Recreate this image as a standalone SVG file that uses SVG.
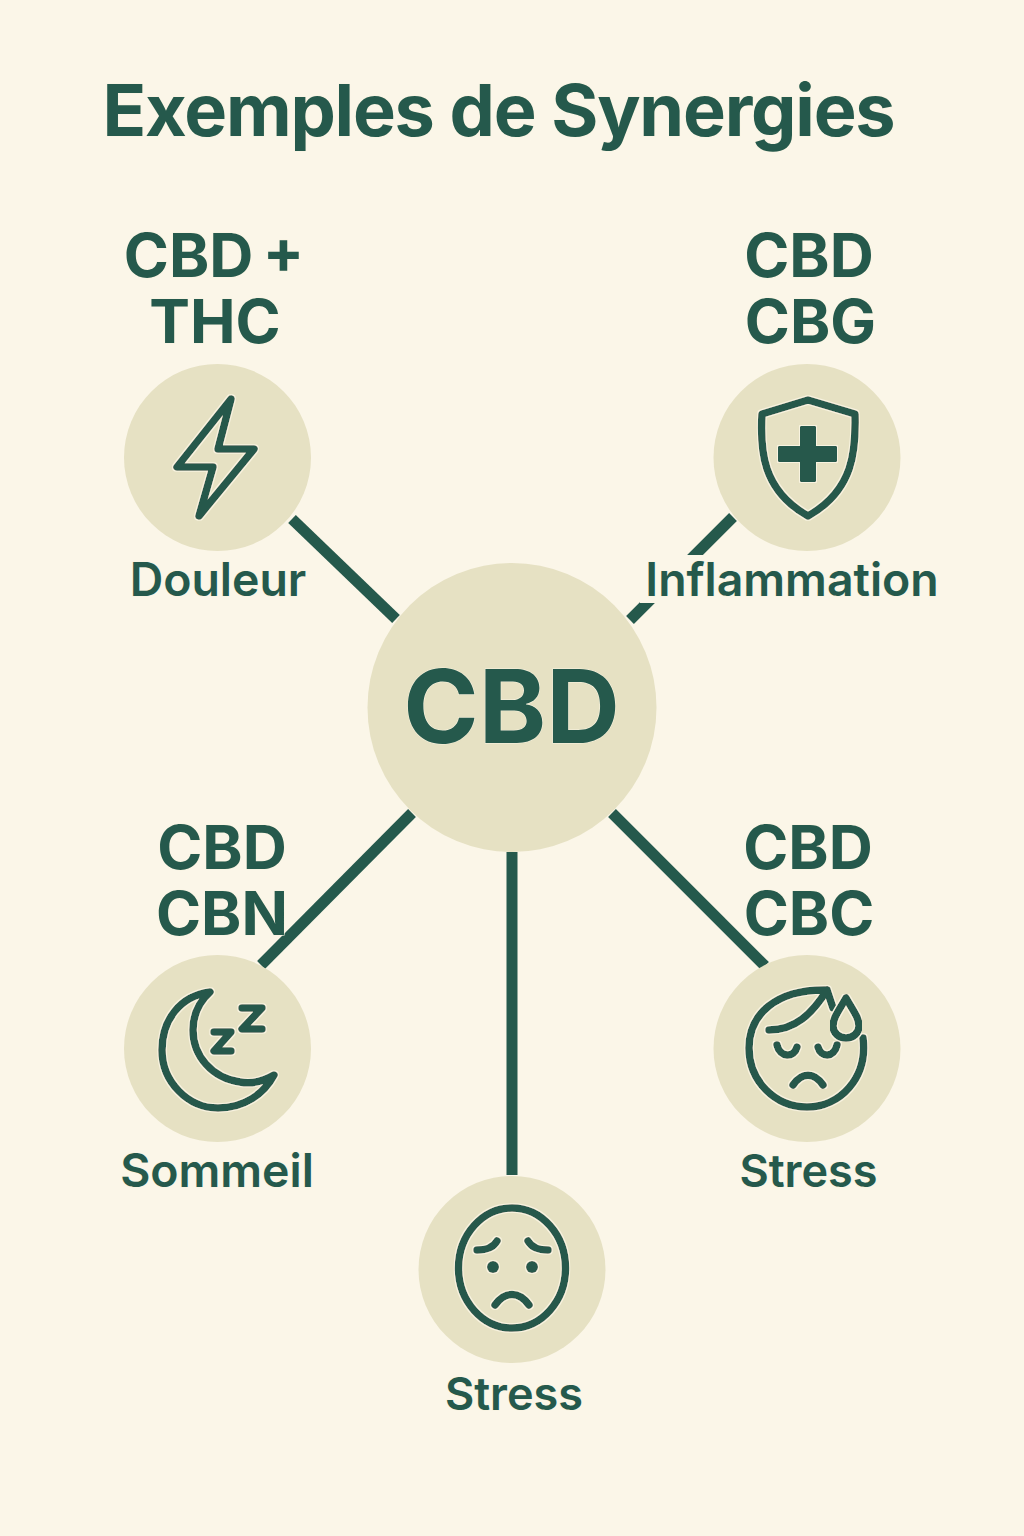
<svg xmlns="http://www.w3.org/2000/svg" width="1024" height="1536" viewBox="0 0 1024 1536">
<style>
text{font-family:Inter,"Liberation Sans",sans-serif;fill:#25594C;text-anchor:middle;paint-order:stroke;stroke:#F8F3E0;stroke-width:1px}
.title{font-size:72px;font-weight:700;letter-spacing:-1.2px}
.combo{font-size:61px;font-weight:700}
.label{font-size:46.4px;font-weight:600}
.small{font-size:45px;font-weight:600}
.hub{font-size:102px;font-weight:700}
.disc{fill:#E6E1C3}
.icon{fill:none;stroke:#25594C;stroke-width:7.5;stroke-linecap:round;stroke-linejoin:round}
.solid{fill:#25594C;stroke:#25594C;stroke-width:2;stroke-linejoin:round}
.link{stroke:#25594C;stroke-width:11;fill:none}
.halo{filter:url(#halo)}
</style>
<defs>
<filter id="halo" x="-10%" y="-10%" width="120%" height="120%">
<feMorphology in="SourceAlpha" operator="dilate" radius="0.8" result="d"/>
<feFlood flood-color="#F8F3E0"/>
<feComposite in2="d" operator="in" result="h"/>
<feMerge><feMergeNode in="h"/><feMergeNode in="SourceGraphic"/></feMerge>
</filter>
</defs>
<rect width="1024" height="1536" fill="#FBF6E8"/>
<text class="title" x="498.5" y="136">Exemples de Synergies</text>
<g id="connectors">
<line class="link" x1="292" y1="519" x2="396" y2="619"/>
<line class="link" x1="733" y1="517" x2="630" y2="620"/>
<line class="link" x1="412" y1="813" x2="261" y2="965"/>
<line class="link" x1="612" y1="813" x2="765" y2="966"/>
<line class="link" x1="512" y1="852" x2="512" y2="1175"/>
</g>
<g id="node-cbd">
<circle class="disc" cx="512" cy="707.5" r="144.5"/>
<text class="hub" x="511.5" y="743">CBD</text>
</g>
<g id="node-douleur">
<text class="combo" x="214" y="277" word-spacing="-5">CBD +</text>
<text class="combo" x="215" y="343">THC</text>
<circle class="disc" cx="217.5" cy="457.5" r="93.5"/>
<path class="icon halo" d="M231,399 L177,467 L213,467 L199,516 L254,449 L218,449 Z"/>
<text class="label" x="218" y="596">Douleur</text>
</g>
<g id="node-inflammation">
<text class="combo" x="809" y="277">CBD</text>
<text class="combo" x="810.5" y="343">CBG</text>
<circle class="disc" cx="807" cy="457.5" r="93.5"/>
<path class="icon halo" d="M808,400 L762,414 C760,450 762,490 808,516 C854,490 856,450 855,414 Z"/>
<path class="solid halo" d="M801,427 H815 V447 H836 V461 H815 V481 H801 V461 H779 V447 H801 Z"/>
<rect x="640" y="555" width="300" height="48" fill="#FBF6E8"/>
<text class="label" x="792" y="596">Inflammation</text>
</g>
<g id="node-sommeil">
<text class="combo" x="222" y="869">CBD</text>
<text class="combo" x="222" y="935">CBN</text>
<circle class="disc" cx="217.5" cy="1048.5" r="93.5"/>
<path class="icon halo" d="M210,992 C180,996 162,1020 162,1050 C162,1082 188,1108 218,1108 C244,1108 264,1094 274,1075 C262,1082 250,1084 240,1082 C212,1078 193,1056 193,1030 C193,1014 199,1002 210,992 Z"/>
<path class="icon halo" d="M242,1008 H262 L242,1029 H262 M214,1032 H231 L214,1051 H231"/>
<text class="label" x="217" y="1187">Sommeil</text>
</g>
<g id="node-stress-1">
<text class="combo" x="808" y="869">CBD</text>
<text class="combo" x="809" y="935">CBC</text>
<circle class="disc" cx="807" cy="1048.5" r="93.5"/>
<path class="icon halo" d="M863,1038 C868,1078 840,1107 807,1107 C775,1107 749,1081 749,1048 C749,1015 775,989 827,990 C812,1014 795,1030 769,1030 M827,990 L833,1008"/>
<path class="icon halo" d="M846,998 C838,1012 833,1018 833,1026 C833,1033 839,1038 846,1038 C853,1038 859,1033 859,1026 C859,1018 854,1012 846,998 Z"/>
<path class="icon halo" d="M777,1045 C780,1058 794,1058 797,1047 M818,1047 C821,1058 834,1058 837,1045 M793,1085 C802,1072 814,1072 823,1085"/>
<text class="small" x="808.5" y="1187">Stress</text>
</g>
<g id="node-stress-2">
<circle class="disc" cx="512" cy="1269.5" r="93.5"/>
<ellipse class="icon halo" cx="512" cy="1268" rx="53.5" ry="60"/>
<path class="icon halo" d="M477,1250 C486,1250 493,1248 497,1241 M528,1241 C532,1248 539,1250 548,1250 M495,1305 C505,1291 519,1291 529,1305"/>
<circle class="halo" cx="493" cy="1267" r="6" fill="#25594C"/>
<circle class="halo" cx="532" cy="1267" r="6" fill="#25594C"/>
<text class="small" x="514" y="1410">Stress</text>
</g>
</svg>
